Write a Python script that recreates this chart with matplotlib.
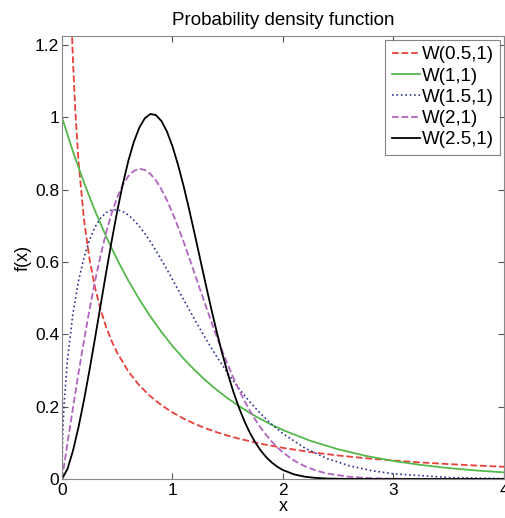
import matplotlib
matplotlib.use('Agg')
from matplotlib import pyplot as plt

plt.rcParams['font.family'] = ['Liberation Sans', 'DejaVu Sans']

# values
x_05 = [0.02, 0.03, 0.05, 0.06, 0.07, 0.08, 0.09, 0.1, 0.12, 0.15, 0.2, 0.25, 0.3, 0.35,
        0.4, 0.45, 0.5, 0.6, 0.7, 0.8, 0.9, 1.0, 1.1, 1.2, 1.3, 1.4, 1.5, 1.6, 1.8,
        2.0, 2.25, 2.5, 2.75, 3.0, 3.25, 3.5, 3.75, 4.0]
y_05 = [3.07, 2.428, 1.788, 1.598, 1.450, 1.333, 1.2347, 1.153, 1.0208, 0.876, 0.715,
        0.6065, 0.528, 0.4678, 0.420, 0.3811, 0.349, 0.2975, 0.2588, 0.2286, 0.2041,
        0.1839, 0.1670, 0.1526, 0.1402, 0.1294, 0.1199, 0.1116, 0.0974, 0.0860,
        0.0744, 0.0650, 0.0574, 0.0511, 0.0457, 0.0412, 0.0372, 0.0338]

x_10 = [0, 0.1, 0.2, 0.3, 0.4, 0.5, 0.6, 0.7, 0.8, 0.9, 1.0, 1.1, 1.2, 1.3, 1.4, 1.5,
        1.6, 1.7, 1.8, 1.9, 2.0, 2.25, 2.5, 2.75, 3.0, 3.25, 3.5, 3.75, 4.0]
y_10 = [1.0, 0.9048, 0.8187, 0.7408, 0.6703, 0.6065, 0.5488, 0.4966, 0.4493, 0.4066,
        0.3679, 0.3329, 0.3012, 0.2725, 0.2466, 0.2231, 0.2019, 0.1827, 0.1653,
        0.1496, 0.1353, 0.1054, 0.0821, 0.0639, 0.0498, 0.0388, 0.0302, 0.0235,
        0.0183]

x_15 = [0, 0.005, 0.01, 0.02, 0.05, 0.1, 0.15, 0.2, 0.25, 0.3, 0.35, 0.4, 0.45, 0.5,
        0.55, 0.6, 0.65, 0.7, 0.75, 0.8, 0.85, 0.9, 0.95, 1.0, 1.1, 1.2, 1.3, 1.4,
        1.5, 1.6, 1.7, 1.8, 1.9, 2.0, 2.2, 2.4, 2.6, 2.8, 3.0, 3.5, 4.0]
y_15 = [0, 0.106, 0.1499, 0.2115, 0.3317, 0.4596, 0.5482, 0.6134, 0.6619, 0.6971,
        0.7215, 0.7367, 0.7440, 0.7448, 0.7398, 0.7300, 0.7160, 0.6987, 0.6785,
        0.6561, 0.6316, 0.6059, 0.5793, 0.5518, 0.4963, 0.4414, 0.3884, 0.3386,
        0.2926, 0.2507, 0.2132, 0.1799, 0.1507, 0.1254, 0.0852, 0.0564, 0.0366,
        0.0232, 0.0144, 0.0040, 0.0010]

x_20 = [0, 0.05, 0.1, 0.15, 0.2, 0.25, 0.3, 0.35, 0.4, 0.45, 0.5, 0.55, 0.6, 0.65,
        0.7, 0.75, 0.8, 0.85, 0.9, 0.95, 1.0, 1.05, 1.1, 1.15, 1.2, 1.25, 1.3, 1.35,
        1.4, 1.45, 1.5, 1.55, 1.6, 1.65, 1.7, 1.75, 1.8, 1.85, 1.9, 1.95, 2.0, 2.1,
        2.2, 2.3, 2.4, 2.6, 2.8, 3.0, 3.5, 4.0]
y_20 = [0, 0.0998, 0.198, 0.2933, 0.3843, 0.4697, 0.5483, 0.6193, 0.6817, 0.7350,
        0.7788, 0.8129, 0.8372, 0.8520, 0.8577, 0.8547, 0.8437, 0.8257, 0.8008,
        0.7706, 0.7358, 0.6974, 0.6561, 0.6130, 0.5686, 0.5240, 0.4797, 0.4363,
        0.3945, 0.3541, 0.3162, 0.2804, 0.2474, 0.2168, 0.1890, 0.1637, 0.1410,
        0.1208, 0.1029, 0.0870, 0.0733, 0.0510, 0.0348, 0.0232, 0.0151, 0.0060,
        0.0022, 0.0007, 0.0, 0.0]

x_25 = [0, 0.05, 0.1, 0.15, 0.2, 0.25, 0.3, 0.35, 0.4, 0.45, 0.5, 0.55, 0.6, 0.65,
        0.7, 0.75, 0.8, 0.85, 0.9, 0.95, 1.0, 1.05, 1.1, 1.15, 1.2, 1.25, 1.3, 1.35,
        1.4, 1.45, 1.5, 1.55, 1.6, 1.65, 1.7, 1.75, 1.8, 1.85, 1.9, 1.95, 2.0, 2.1,
        2.2, 2.3, 2.4, 2.6, 3.0, 4.0]
y_25 = [0, 0.0279, 0.0788, 0.1440, 0.2196, 0.3029, 0.3910, 0.4815, 0.5716, 0.6589,
        0.7407, 0.8149, 0.8791, 0.9319, 0.9718, 0.9977, 1.0093, 1.0065, 0.9898,
        0.9607, 0.9197, 0.8691, 0.8108, 0.7465, 0.6787, 0.6090, 0.5395, 0.4718,
        0.4075, 0.3470, 0.2921, 0.2421, 0.1985, 0.1605, 0.1279, 0.1007, 0.0781,
        0.0598, 0.0452, 0.0336, 0.0247, 0.0128, 0.0062, 0.0029, 0.0012, 0.0002,
        0.0, 0.0]

fig = plt.figure(figsize=(5.06, 5.18), dpi=100)
ax = fig.add_axes([0.1225, 0.0753, 0.8735, 0.8552])

ax.plot(x_05, y_05, '--', color='#e8403a', lw=1.3, label='W(0.5,1)')
ax.plot(x_10, y_10, '-', color='#55b84c', lw=1.3, label='W(1,1)')
ax.plot(x_15, y_15, ':', color='#2d3590', lw=1.2, label='W(1.5,1)')
ax.plot(x_20, y_20, '--', color='#b164c0', lw=1.3, label='W(2,1)')
ax.plot(x_25, y_25, '-', color='black', lw=1.3, label='W(2.5,1)')

ax.set_xlim(0, 4)
ax.set_ylim(0, 1.225)
ax.set_xticks([0, 1, 2, 3, 4])
ax.set_yticks([0, 0.2, 0.4, 0.6, 0.8, 1.0, 1.2])
ax.set_yticklabels(['0', '0.2', '0.4', '0.6', '0.8', '1', '1.2'])
ax.tick_params(direction='in', top=True, right=True, labelsize=12.5, length=4,
               color='#555555', pad=2)
ax.tick_params(axis='x', pad=3)
for s in ax.spines.values():
    s.set_color('#888888')

ax.set_title('Probability density function', fontsize=13.5, pad=8)
ax.set_xlabel('x', fontsize=13, labelpad=0)
ax.set_ylabel('f(x)', fontsize=13, labelpad=2)

leg = ax.legend(loc='upper right', fontsize=13.5, handlelength=1.5, fancybox=False,
                borderaxespad=0.2, labelspacing=0.22, handletextpad=0.1,
                borderpad=0.35)
leg.get_frame().set_edgecolor('#666666')
leg.get_frame().set_linewidth(0.8)

fig.savefig('out.png', dpi=100)
